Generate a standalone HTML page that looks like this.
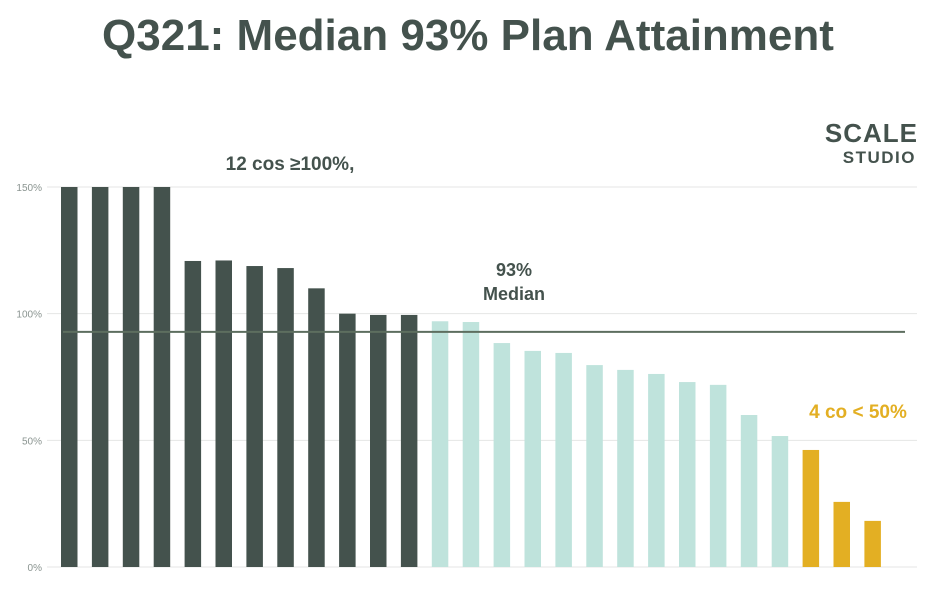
<!DOCTYPE html>
<html><head><meta charset="utf-8"><style>
body{margin:0;width:937px;height:607px;background:#fff;overflow:hidden;font-family:"Liberation Sans",sans-serif}
</style></head><body>
<svg width="937" height="607">
<text x="468" y="50" text-anchor="middle" font-size="44" font-weight="bold" fill="#44524d">Q321: Median 93% Plan Attainment</text>
<text x="918" y="142" text-anchor="end" font-size="26" font-weight="bold" fill="#44524d" letter-spacing="1">SCALE</text>
<text x="916" y="163" text-anchor="end" font-size="17" font-weight="bold" fill="#44524d" letter-spacing="1.5">STUDIO</text>
<g id="grid"></g><g id="bars"></g><g id="ann"></g>
<text x="290" y="170" text-anchor="middle" font-size="19" font-weight="bold" fill="#44524d">12 cos ≥100%,</text>
<text x="514" y="276" text-anchor="middle" font-size="18" font-weight="bold" fill="#44524d">93%</text>
<text x="514" y="300" text-anchor="middle" font-size="18" font-weight="bold" fill="#44524d">Median</text>
<text x="858" y="418" text-anchor="middle" font-size="19" font-weight="bold" fill="#e3af23">4 co &lt; 50%</text>
</svg>
<script>
const ticks=[0,50,100,150];
const tickLabels=["0%","50%","100%","150%"];
const values=[150,150,150,150,120.8,121,118.8,118,110,100,99.5,99.5,97,96.7,88.4,85.3,84.5,79.7,77.8,76.2,73,71.9,60,51.7,46.2,25.7,18.2];
const groups=["d","d","d","d","d","d","d","d","d","d","d","d","l","l","l","l","l","l","l","l","l","l","l","l","g","g","g"];
const median=92.8;
const colors={d:"#44524d",l:"#bfe3dc",g:"#e3af23"};
const NS="http://www.w3.org/2000/svg";
const y=v=>567-v*(380/150);
const x=i=>69+i*30.9;
function mk(t,a,p){const e=document.createElementNS(NS,t);for(const k in a)e.setAttribute(k,a[k]);p.appendChild(e);return e;}
const grid=document.getElementById('grid');
ticks.forEach((t,i)=>{
 const l=mk('line',{x1:47,x2:917,y1:y(t),y2:y(t),stroke:"#e4e6e5","stroke-width":1},grid);
 
 
 const tx=mk('text',{x:42,y:y(t)+4,"text-anchor":"end","font-size":10,fill:"#8a9490"},grid);
 tx.textContent=tickLabels[i];
 
 
});
const bars=document.getElementById('bars');
values.forEach((v,i)=>{
 const r=mk('rect',{x:x(i)-8,y:y(v),width:16.5,height:567-y(v),fill:colors[groups[i]]},bars);
 
 
});
const ml=mk('line',{x1:63,x2:905,y1:y(median),y2:y(median),stroke:"#5d6e5f","stroke-width":2},document.getElementById('ann'));


</script>
</body></html>
